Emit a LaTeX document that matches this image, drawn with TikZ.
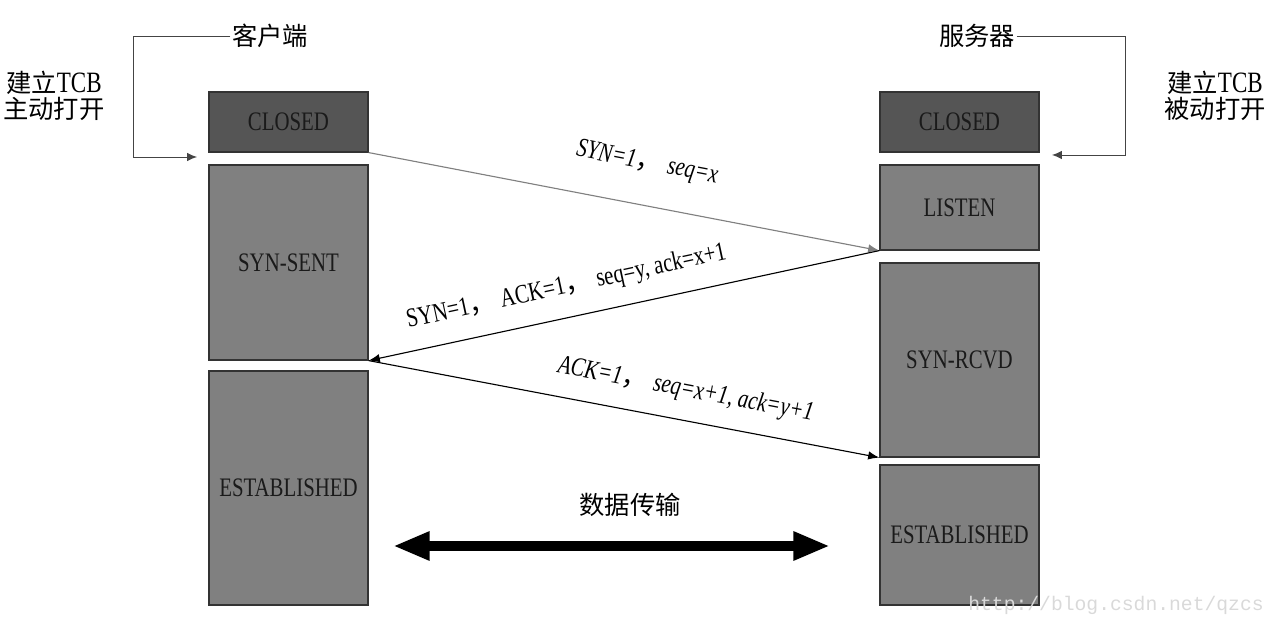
\documentclass[tikz,border=0pt]{standalone}
\usepackage{fontspec}
\setmainfont[FakeStretch=0.78]{Liberation Serif}
\setmonofont{Liberation Mono}
\newfontfamily\cjk{Noto Sans CJK SC}
\usetikzlibrary{arrows.meta}

\definecolor{darkbox}{HTML}{555555}
\definecolor{midbox}{HTML}{808080}
\definecolor{boxline}{HTML}{333333}
\definecolor{boxtext}{HTML}{1A1A1A}
\definecolor{bracketline}{HTML}{444444}

\tikzset{
  statebox/.style={draw=boxline, fill=midbox, line width=0.8pt, minimum width=3.975cm,
    inner sep=0pt, text=boxtext, font=\fontsize{19}{23}\selectfont},
  closedbox/.style={statebox, fill=darkbox, minimum height=1.5cm},
  msg/.style={-{Latex[length=8pt,width=6pt]}, line width=0.8pt},
  msglabel/.style={sloped, inner sep=1pt, font=\fontsize{19}{23}\selectfont},
  bracket/.style={-{Latex[length=7pt,width=6pt]}, draw=bracketline, line width=0.7pt},
  cjklabel/.style={inner sep=1pt, align=center, font=\cjk\fontsize{18}{19}\selectfont},
  dataflow/.style={{Triangle[length=26pt,width=19pt]}-{Triangle[length=26pt,width=19pt]}, line width=7pt},
}

\begin{document}
\begin{tikzpicture}[x=0.025cm, y=-0.025cm]
    \useasboundingbox (0,0) rectangle (1270,622);

    % client side
    \node [closedbox] (cclosed) at (288.5,122) {CLOSED};
    \node [statebox, minimum height=4.875cm] (csynsent) at (288.5,262.5) {SYN-SENT};
    \node [statebox, minimum height=5.85cm] (cestab) at (288.5,488) {ESTABLISHED};

    % server side
    \node [closedbox] (sclosed) at (959.5,122) {CLOSED};
    \node [statebox, minimum height=2.125cm] (slisten) at (959.5,207.5) {LISTEN};
    \node [statebox, minimum height=4.85cm] (ssynrcvd) at (959.5,360) {SYN-RCVD};
    \node [statebox, minimum height=3.5cm] (sestab) at (959.5,535) {ESTABLISHED};

    % open
    \node [cjklabel] (client) at (270,36) {客户端};
    \node [cjklabel] (server) at (977,36) {服务器};
    \node [cjklabel] (copenlbl) at (54,96) {建立{\rmfamily\fontsize{21}{19}\selectfont TCB}\\主动打开};
    \node [cjklabel] (sopenlbl) at (1215,96) {建立{\rmfamily\fontsize{21}{19}\selectfont TCB}\\被动打开};
    \coordinate (copen) at (197,157);
    \coordinate (sopen) at (1052,155);
    \draw [bracket] (client.west) -- (133,36) |- (copen);
    \draw [bracket] (server.east) -- (1125,36) |- (sopen);

    % handshake
    \draw [msg, draw=midbox] (cclosed.south east) -- (slisten.south west)
        node [msglabel, pos=0.53, above=0.7cm] (syn) {\itshape SYN=1{\cjk ，} seq=x};
    \draw [msg] (slisten.south west) -- (csynsent.south east)
        node [msglabel, pos=0.6, above=0.4cm] (synack) {SYN=1{\cjk ，} ACK=1{\cjk ，} seq=y, ack=x+1};
    \draw [msg] (csynsent.south east) -- (ssynrcvd.south west)
        node [msglabel, pos=0.61, above=0.4cm] (ack) {\itshape ACK=1{\cjk ，} seq=x+1, ack=y+1};

    % data
    \node [cjklabel] (transfer) at (630,505) {数据传输};
    \coordinate (dleft) at (393,546);
    \coordinate (dright) at (830,546);
    \draw [dataflow] (dleft) -- (dright);

    \node [text=gray!30, font=\ttfamily\fontsize{14}{18}\selectfont] (wmark) at (1116,605) {http://blog.csdn.net/qzcs};
\end{tikzpicture}
\end{document}
